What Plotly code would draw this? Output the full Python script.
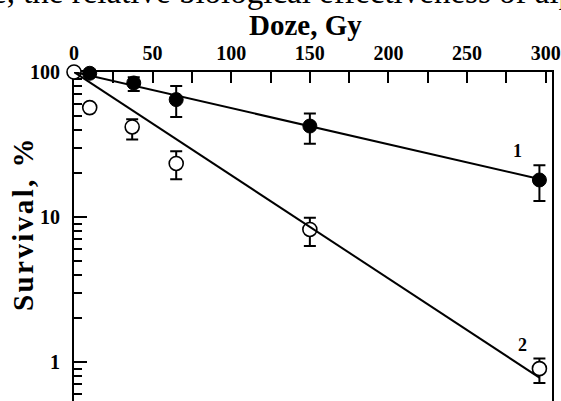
import plotly.graph_objects as go
import math

# Data (dose in Gy, survival in %)
dose1 = [10, 38, 65, 150, 296]
surv1 = [98, 84, 64.5, 42.4, 18.0]
err1_plus = [0, 8, 15.5, 9.3, 4.7]
err1_minus = [0, 10, 15.5, 10.4, 5.1]

dose2 = [0, 10, 37, 65, 150, 296]
surv2 = [100, 56.8, 41.8, 23.4, 8.2, 0.90]
err2_plus = [0, 0, 5.5, 5.0, 1.7, 0.155]
err2_minus = [0, 0, 7.6, 5.2, 1.9, 0.184]

fit_x = [0, 296]
fit1_y = [100, 18.3]
fit2_y = [100, 0.78]

x_ticks = [0, 50, 100, 150, 200, 250, 300]
y_ticks = [1, 10, 100]
y_ticktext = ["1", "10", "100"]
y_minor = [0.6, 0.7, 0.8, 0.9, 2, 3, 4, 5, 6, 7, 8, 9, 20, 30, 40, 50, 60, 70, 80, 90]

FONT = "Liberation Serif"

fig = go.Figure()

fig.add_trace(go.Scatter(
    x=dose1, y=surv1, mode="markers",
    marker=dict(symbol="circle", size=14, color="black", line=dict(color="black", width=1)),
    error_y=dict(type="data", array=err1_plus, arrayminus=err1_minus, color="black", thickness=2, width=6),
    cliponaxis=False, showlegend=False))

fig.add_trace(go.Scatter(
    x=dose2, y=surv2, mode="markers",
    marker=dict(symbol="circle", size=14, color="white", line=dict(color="black", width=1.6)),
    error_y=dict(type="data", array=err2_plus, arrayminus=err2_minus, color="black", thickness=2, width=6),
    cliponaxis=False, showlegend=False))

fig.add_trace(go.Scatter(x=fit_x, y=fit1_y, mode="lines", line=dict(color="black", width=2),
                         cliponaxis=False, showlegend=False))
fig.add_trace(go.Scatter(x=fit_x, y=fit2_y, mode="lines", line=dict(color="black", width=2),
                         cliponaxis=False, showlegend=False))

fig.update_layout(
    width=561, height=401,
    margin=dict(l=74, r=9, t=72, b=0, pad=0),
    paper_bgcolor="white", plot_bgcolor="white",
    xaxis=dict(
        side="top", range=[0, 304], tickvals=x_ticks,
        ticks="inside", ticklen=11, tickwidth=2, tickcolor="black",
        minor=dict(dtick=25, ticks="inside", ticklen=11, tickwidth=2, tickcolor="black"),
        showline=True, linewidth=2, linecolor="black", mirror=False,
        showgrid=False, zeroline=False, layer="below traces",
        tickfont=dict(family=FONT, size=20, color="black", weight="bold"),
        ticklabelstandoff=2,
    ),
    yaxis=dict(
        type="log", range=[-0.269, 2], tickvals=y_ticks, ticktext=y_ticktext,
        ticks="inside", ticklen=13, tickwidth=2, tickcolor="black",
        minor=dict(tickvals=y_minor, ticks="inside", ticklen=8, tickwidth=2, tickcolor="black"),
        showline=True, linewidth=2, linecolor="black", mirror=True,
        showgrid=False, zeroline=False, layer="below traces",
        tickfont=dict(family=FONT, size=20, color="black", weight="bold"),
        ticklabelstandoff=8,
    ),
    annotations=[
        dict(text="Doze, Gy", xref="paper", yref="paper", x=0.484, y=(401 - 25) / 329,
             xanchor="center", yanchor="middle", showarrow=False,
             font=dict(family=FONT, size=29, color="black", weight="bold")),
        dict(text="S\u200au\u200ar\u200av\u200ai\u200av\u200aa\u200al\u200a,\u200a \u200a%", xref="paper", yref="paper",
             x=(23 - 74) / 478, y=(401 - 225) / 329, textangle=-90,
             xanchor="center", yanchor="middle", showarrow=False,
             font=dict(family=FONT, size=29, color="black", weight="bold")),
        dict(text="e, the relative biological effectiveness of alp", xref="paper", yref="paper",
             x=(-10 - 74) / 478, y=(401 + 8) / 329, xanchor="left", yanchor="middle", showarrow=False,
             font=dict(family=FONT, size=33, color="black")),
        dict(text="1", x=282, y=math.log10(28.4), xref="x", yref="y", showarrow=False,
             font=dict(family=FONT, size=18, color="black", weight="bold")),
        dict(text="2", x=285, y=math.log10(1.3), xref="x", yref="y", showarrow=False,
             font=dict(family=FONT, size=18, color="black", weight="bold")),
    ],
)

fig.write_html("out.html")
